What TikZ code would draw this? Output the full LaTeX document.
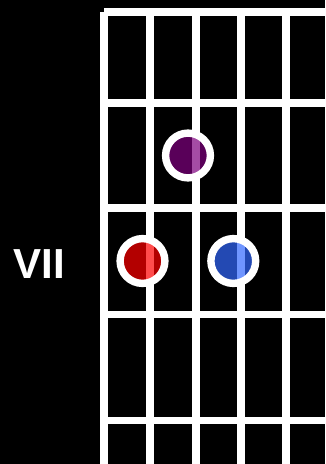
\documentclass[tikz,border=0pt]{standalone}
\usepackage{fontspec}
\setmainfont{Liberation Sans}
\begin{document}
\begin{tikzpicture}[x=1pt,y=-1pt,
  gridline/.style={draw=white,line width=7.8pt,line cap=butt},
  fingerdot/.style={circle,minimum size=44.8pt,inner sep=0pt,draw=white,line width=7.4pt,fill=#1,fill opacity=0.7,draw opacity=1},
  poslabel/.style={text=white,font=\fontsize{42}{42}\selectfont\bfseries,inner sep=0pt,anchor=base west}]
\fill[black] (0,0) rectangle (325,464);
\useasboundingbox (0,0) rectangle (325,464);
\definecolor{dotpurple}{RGB}{128,0,128}
\definecolor{dotred}{RGB}{255,0,0}
\definecolor{dotblue}{RGB}{50,104,255}
% frets
\foreach \y in {12,103,208.3,314.5,420.5}
  \draw[gridline] (104.3,\y) -- (325,\y);
% strings
\foreach \x in {104.3,150,196,241,286}
  \draw[gridline] (\x,12) -- (\x,464);
% dots
\node[fingerdot=dotpurple] (d1) at (188,155.5) {};
\node[fingerdot=dotred] (d2) at (142.5,261) {};
\node[fingerdot=dotblue] (d3) at (233.3,261) {};
% label
\node[poslabel] (lbl) at (13.5,278.5) {VII};
\end{tikzpicture}
\end{document}
